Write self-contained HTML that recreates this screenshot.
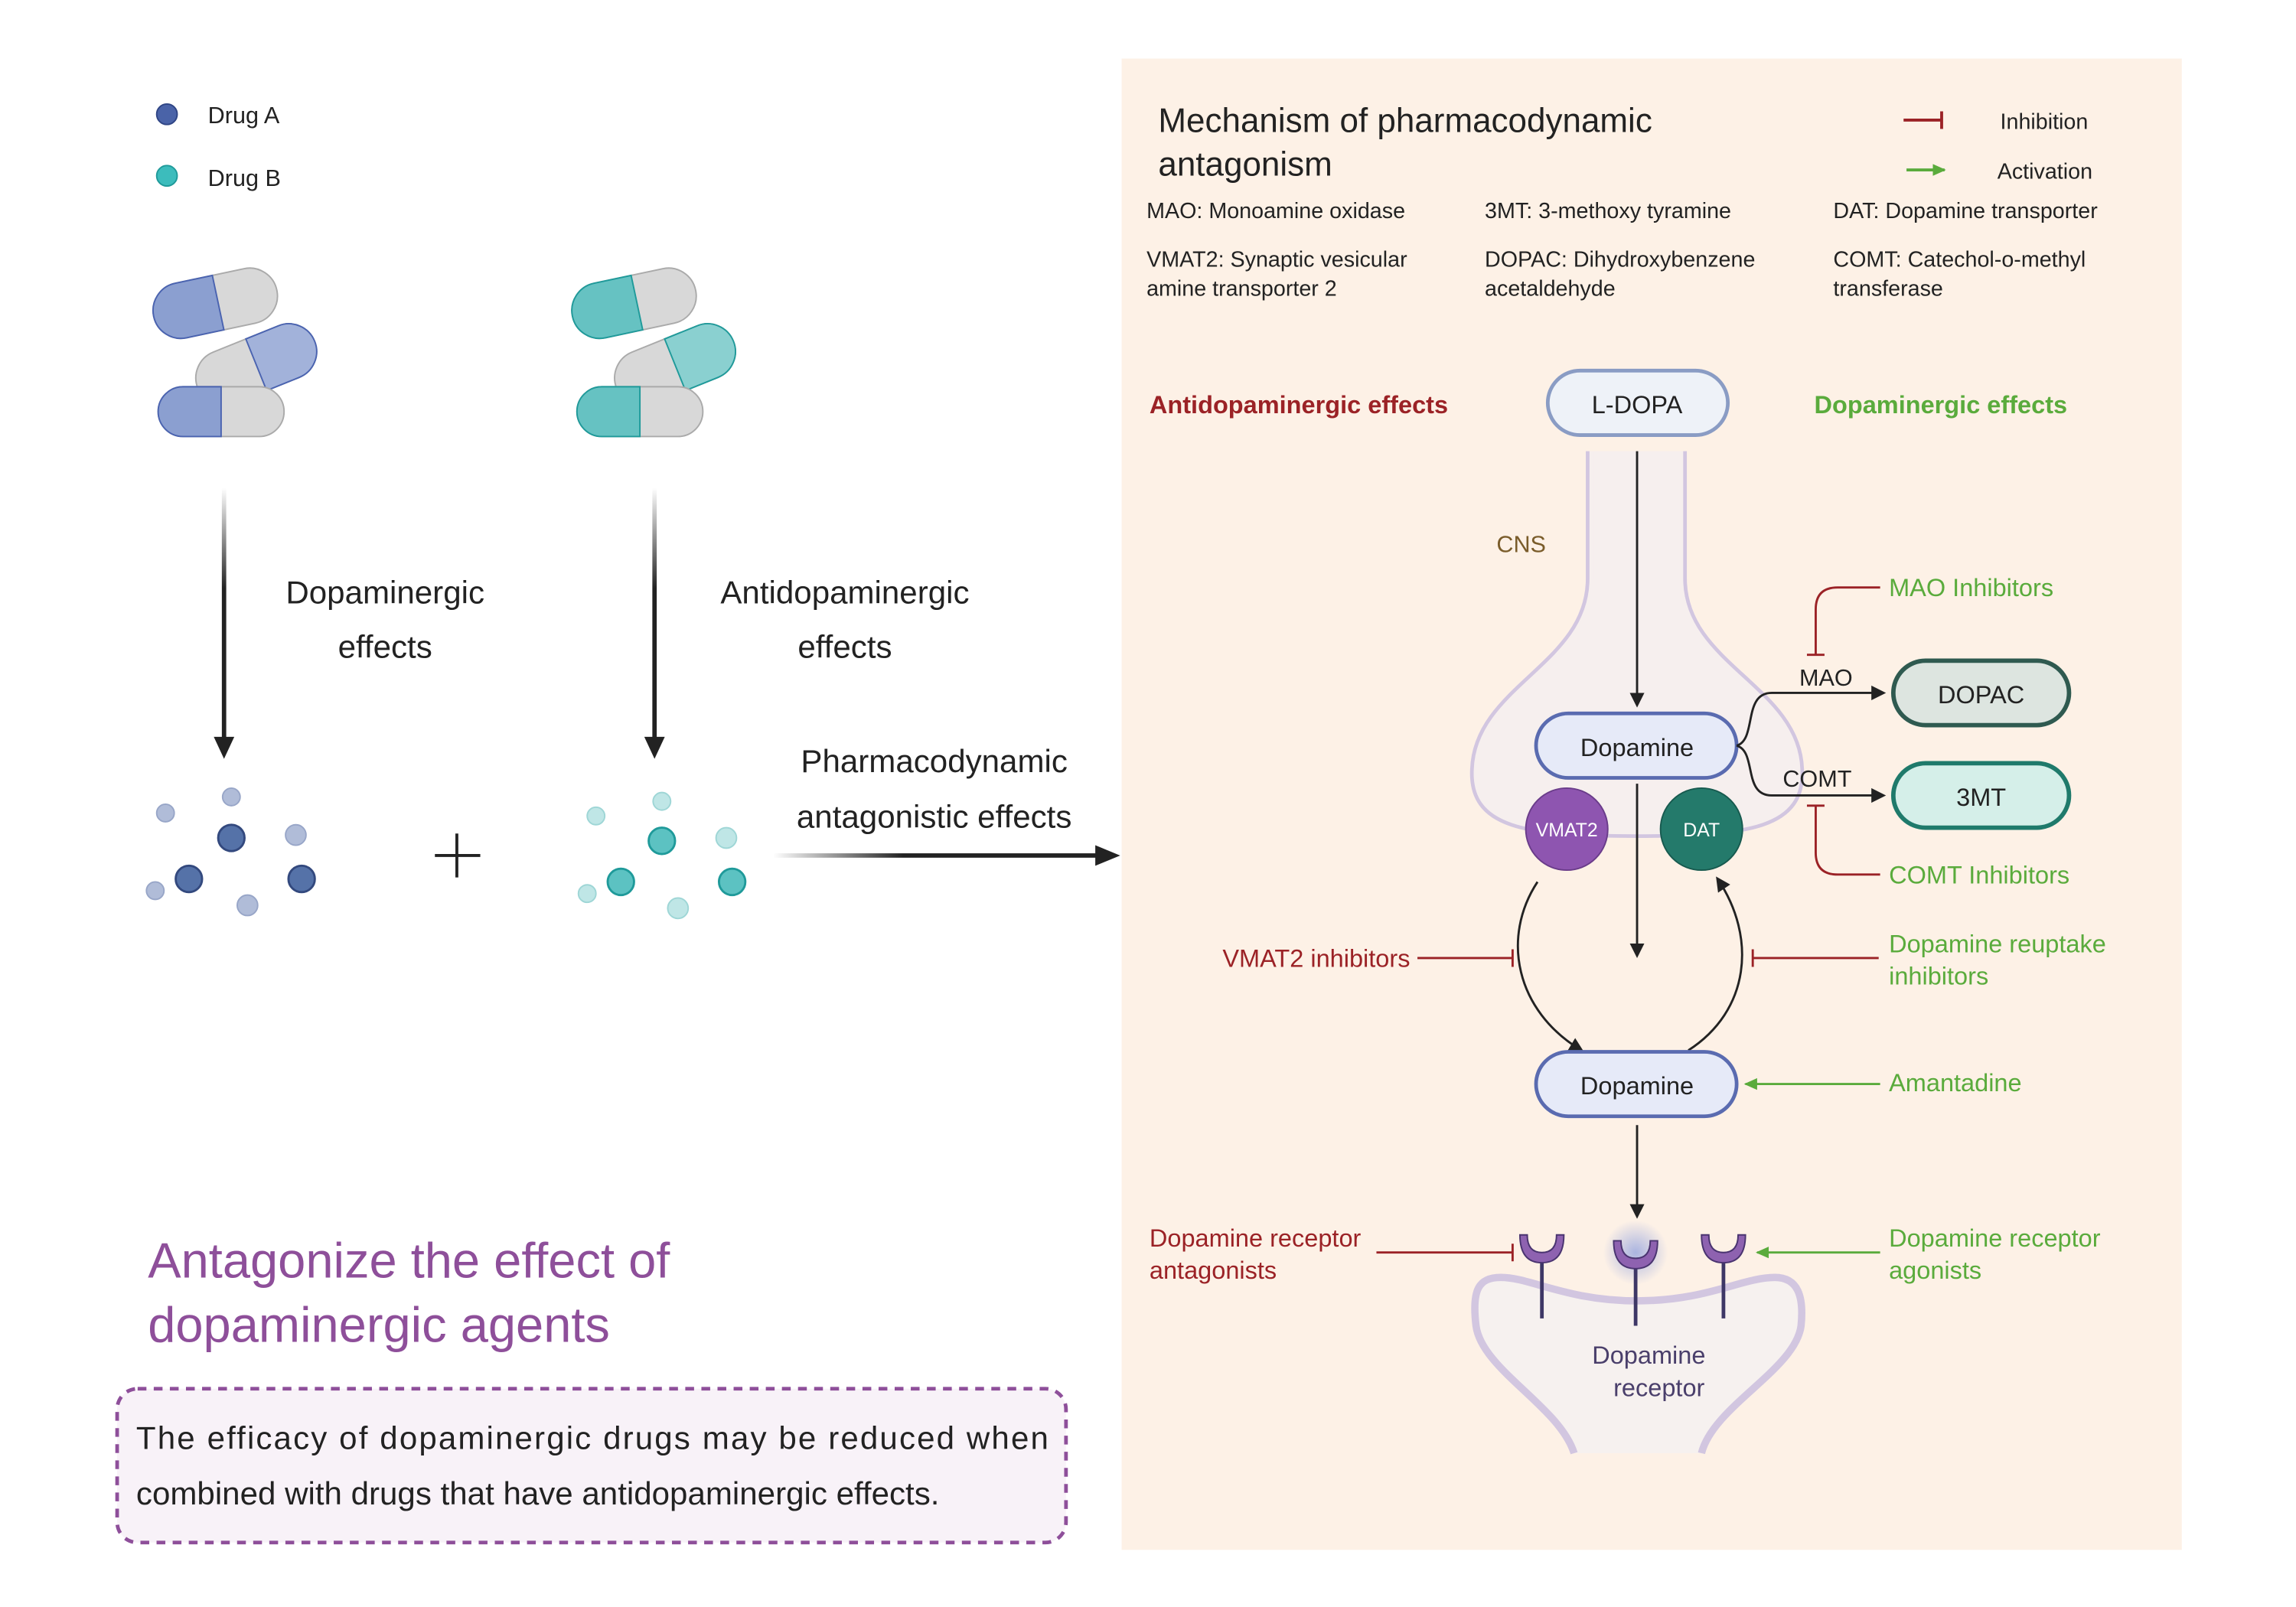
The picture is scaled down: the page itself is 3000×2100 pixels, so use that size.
<!DOCTYPE html>
<html><head><meta charset="utf-8"><style>
html,body{margin:0;padding:0;background:#fff;}
svg{display:block;}
text{font-family:"Liberation Sans",sans-serif;}
</style></head><body>
<svg width="3000" height="2100" viewBox="0 0 1568 1097" preserveAspectRatio="none" xmlns="http://www.w3.org/2000/svg">
<defs>
<linearGradient id="gv" x1="0" y1="0" x2="0" y2="1"><stop offset="0" stop-color="#fff"/><stop offset="0.4" stop-color="#222"/><stop offset="1" stop-color="#222"/></linearGradient>
<linearGradient id="gh" x1="0" y1="0" x2="1" y2="0"><stop offset="0" stop-color="#fff"/><stop offset="0.4" stop-color="#222"/><stop offset="1" stop-color="#222"/></linearGradient>
<radialGradient id="glow"><stop offset="0" stop-color="#aab4e0"/><stop offset="1" stop-color="#aab4e0" stop-opacity="0"/></radialGradient>
<marker id="ak" markerWidth="10" markerHeight="10" refX="8" refY="5" orient="auto" markerUnits="userSpaceOnUse"><path d="M0,0 L10,5 L0,10 z" fill="#222"/></marker>
<marker id="ag" markerWidth="10" markerHeight="10" refX="8" refY="5" orient="auto" markerUnits="userSpaceOnUse"><path d="M0,1 L9,5 L0,9 z" fill="#5aab3c"/></marker>
</defs>

<circle cx="114" cy="78" r="7" fill="#4a63a8" stroke="#2f4585"/>
<text x="142" y="84" font-size="16" fill="#222">Drug A</text>
<circle cx="114" cy="120" r="7" fill="#3cbcbc" stroke="#1f9a9a"/>
<text x="142" y="127" font-size="16" fill="#222">Drug B</text>

<g>
<g transform="translate(147,207) rotate(-12)">
<rect x="-43" y="-19" width="86" height="38" rx="19" fill="#d8d8d8" stroke="#aaa"/>
<path d="M-24,-19 H2 V19 H-24 A19,19 0 0 1 -24,-19z" fill="#8b9fd0" stroke="#4a63b0"/>
</g>
<g transform="translate(175,249) rotate(-22)">
<rect x="-43" y="-19" width="86" height="38" rx="19" fill="#d8d8d8" stroke="#aaa"/>
<path d="M0,-19 H24 A19,19 0 0 1 24,19 H0z" fill="#a2b2da" stroke="#4a63b0"/>
</g>
<g transform="translate(151,281)">
<rect x="-43" y="-17" width="86" height="34" rx="17" fill="#d8d8d8" stroke="#aaa"/>
<path d="M-26,-17 H0 V17 H-26 A17,17 0 0 1 -26,-17z" fill="#8b9fd0" stroke="#4a63b0"/>
</g>
</g>
<g>
<g transform="translate(433,207) rotate(-12)">
<rect x="-43" y="-19" width="86" height="38" rx="19" fill="#d8d8d8" stroke="#aaa"/>
<path d="M-24,-19 H2 V19 H-24 A19,19 0 0 1 -24,-19z" fill="#66c2c2" stroke="#1f9a9a"/>
</g>
<g transform="translate(461,249) rotate(-22)">
<rect x="-43" y="-19" width="86" height="38" rx="19" fill="#d8d8d8" stroke="#aaa"/>
<path d="M0,-19 H24 A19,19 0 0 1 24,19 H0z" fill="#8ad0d0" stroke="#1f9a9a"/>
</g>
<g transform="translate(437,281)">
<rect x="-43" y="-17" width="86" height="34" rx="17" fill="#d8d8d8" stroke="#aaa"/>
<path d="M-26,-17 H0 V17 H-26 A17,17 0 0 1 -26,-17z" fill="#66c2c2" stroke="#1f9a9a"/>
</g>
</g>

<rect x="151.5" y="333" width="3" height="172" fill="url(#gv)"/>
<path d="M146,503 L160,503 L153,518z" fill="#222"/>
<rect x="445.5" y="333" width="3" height="172" fill="url(#gv)"/>
<path d="M440,503 L454,503 L447,518z" fill="#222"/>

<text x="263" y="412" font-size="22" fill="#222" text-anchor="middle">Dopaminergic</text>
<text x="263" y="449" font-size="22" fill="#222" text-anchor="middle">effects</text>
<text x="577" y="412" font-size="22" fill="#222" text-anchor="middle">Antidopaminergic</text>
<text x="577" y="449" font-size="22" fill="#222" text-anchor="middle">effects</text>

<g stroke-width="1">
<circle cx="113" cy="555" r="6" fill="#b0bcd8" stroke="#98a6c8"/>
<circle cx="158" cy="544" r="6" fill="#b0bcd8" stroke="#98a6c8"/>
<circle cx="202" cy="570" r="7" fill="#b0bcd8" stroke="#98a6c8"/>
<circle cx="106" cy="608" r="6" fill="#b0bcd8" stroke="#98a6c8"/>
<circle cx="169" cy="618" r="7" fill="#b0bcd8" stroke="#98a6c8"/>
<circle cx="158" cy="572" r="9" fill="#5572a8" stroke="#33497e" stroke-width="1.5"/>
<circle cx="129" cy="600" r="9" fill="#5572a8" stroke="#33497e" stroke-width="1.5"/>
<circle cx="206" cy="600" r="9" fill="#5572a8" stroke="#33497e" stroke-width="1.5"/>
<circle cx="407" cy="557" r="6" fill="#bfe6e6" stroke="#9ed6d6"/>
<circle cx="452" cy="547" r="6" fill="#bfe6e6" stroke="#9ed6d6"/>
<circle cx="496" cy="572" r="7" fill="#bfe6e6" stroke="#9ed6d6"/>
<circle cx="401" cy="610" r="6" fill="#bfe6e6" stroke="#9ed6d6"/>
<circle cx="463" cy="620" r="7" fill="#bfe6e6" stroke="#9ed6d6"/>
<circle cx="452" cy="574" r="9" fill="#5cc2c2" stroke="#1f9a9a" stroke-width="1.5"/>
<circle cx="424" cy="602" r="9" fill="#5cc2c2" stroke="#1f9a9a" stroke-width="1.5"/>
<circle cx="500" cy="602" r="9" fill="#5cc2c2" stroke="#1f9a9a" stroke-width="1.5"/>
</g>
<path d="M297,584 H328 M312,569 V599" stroke="#222" stroke-width="2"/>

<text x="638" y="527" font-size="22" fill="#222" text-anchor="middle">Pharmacodynamic</text>
<text x="638" y="565" font-size="22" fill="#222" text-anchor="middle">antagonistic effects</text>
<rect x="528" y="582.5" width="222" height="3" fill="url(#gh)"/>
<path d="M748,577 L765,584 L748,591z" fill="#222"/>

<text x="101" y="872" font-size="34" fill="#8e4f9a">Antagonize the effect of</text>
<text x="101" y="916" font-size="34" fill="#8e4f9a">dopaminergic agents</text>
<rect x="80" y="948" width="648" height="105" rx="14" fill="#f8f2f8" stroke="#8e4f9a" stroke-width="2.5" stroke-dasharray="6,5"/>
<text x="93" y="989" font-size="22" fill="#222" textLength="623">The efficacy of dopaminergic drugs may be reduced when</text>
<text x="93" y="1027" font-size="22" fill="#222">combined with drugs that have antidopaminergic effects.</text>

<rect x="766" y="40" width="724" height="1018" fill="#fdf1e6"/>
<text x="791" y="90" font-size="23" fill="#222">Mechanism of pharmacodynamic</text>
<text x="791" y="120" font-size="23" fill="#222">antagonism</text>
<path d="M1300,82 H1326 M1326,76 V88" stroke="#9b2226" stroke-width="2"/>
<text x="1366" y="88" font-size="15" fill="#222">Inhibition</text>
<line x1="1302" y1="116" x2="1328" y2="116" stroke="#5aab3c" stroke-width="2" marker-end="url(#ag)"/>
<text x="1364" y="122" font-size="15" fill="#222">Activation</text>
<g font-size="15" fill="#222">
<text x="783" y="149">MAO: Monoamine oxidase</text>
<text x="1014" y="149">3MT: 3-methoxy tyramine</text>
<text x="1252" y="149">DAT: Dopamine transporter</text>
<text x="783" y="182">VMAT2: Synaptic vesicular</text>
<text x="783" y="202">amine transporter 2</text>
<text x="1014" y="182">DOPAC: Dihydroxybenzene</text>
<text x="1014" y="202">acetaldehyde</text>
<text x="1252" y="182">COMT: Catechol-o-methyl</text>
<text x="1252" y="202">transferase</text>
</g>
<text x="785" y="282" font-size="17" font-weight="bold" fill="#9b2226">Antidopaminergic effects</text>
<text x="1239" y="282" font-size="17" font-weight="bold" fill="#5aab3c">Dopaminergic effects</text>

<path d="M1087,305 L1087,395 C1087,455 1010,470 1008,525 C1006,562 1040,568 1118,568 C1196,568 1230,562 1228,525 C1226,470 1148,455 1148,395 L1148,305" fill="#f6efee" stroke="#d2c6e0" stroke-width="8"/>
<path d="M1087,305 L1087,395 C1087,455 1010,470 1008,525 C1006,562 1040,568 1118,568 C1196,568 1230,562 1228,525 C1226,470 1148,455 1148,395 L1148,305" fill="#f6efee" stroke="#f6efee" stroke-width="3"/>
<rect x="1080" y="300" width="75" height="8" fill="#fdf1e6"/>
<text x="1022" y="377" font-size="16" fill="#7a5c2a">CNS</text>

<rect x="1057" y="253" width="123" height="44" rx="22" fill="#eef2f8" stroke="#8a9cc4" stroke-width="2.5"/>
<text x="1118" y="282" font-size="17" fill="#222" text-anchor="middle">L-DOPA</text>
<line x1="1118" y1="308" x2="1118" y2="481" stroke="#222" stroke-width="1.5" marker-end="url(#ak)"/>

<rect x="1049" y="487" width="137" height="44" rx="22" fill="#e6eaf8" stroke="#5a6bb0" stroke-width="2.5"/>
<text x="1118" y="516" font-size="17" fill="#222" text-anchor="middle">Dopamine</text>

<circle cx="1070" cy="566" r="28" fill="#8e55b0" stroke="#6a3c8a"/>
<text x="1070" y="571" font-size="13" fill="#fff" text-anchor="middle">VMAT2</text>
<circle cx="1162" cy="566" r="28" fill="#247a6b" stroke="#175a4f"/>
<text x="1162" y="571" font-size="13" fill="#fff" text-anchor="middle">DAT</text>

<line x1="1118" y1="535" x2="1118" y2="652" stroke="#222" stroke-width="1.5" marker-end="url(#ak)"/>
<path d="M1050,602 C1025,640 1035,690 1080,717" fill="none" stroke="#222" stroke-width="1.5" marker-end="url(#ak)"/>
<path d="M1153,717 C1195,690 1200,640 1173,600" fill="none" stroke="#222" stroke-width="1.5" marker-end="url(#ak)"/>

<rect x="1049" y="718" width="137" height="44" rx="22" fill="#e6eaf8" stroke="#5a6bb0" stroke-width="2.5"/>
<text x="1118" y="747" font-size="17" fill="#222" text-anchor="middle">Dopamine</text>
<line x1="1118" y1="768" x2="1118" y2="830" stroke="#222" stroke-width="1.5" marker-end="url(#ak)"/>

<path d="M1186,509 C1200,505 1190,473 1210,473 L1286,473" fill="none" stroke="#222" stroke-width="1.5" marker-end="url(#ak)"/>
<path d="M1186,509 C1200,513 1190,543 1210,543 L1286,543" fill="none" stroke="#222" stroke-width="1.5" marker-end="url(#ak)"/>
<text x="1247" y="468" font-size="16" fill="#222" text-anchor="middle">MAO</text>
<text x="1241" y="537" font-size="16" fill="#222" text-anchor="middle">COMT</text>
<rect x="1293" y="451" width="120" height="44" rx="22" fill="#dde5e0" stroke="#2f5a50" stroke-width="3"/>
<text x="1353" y="480" font-size="17" fill="#222" text-anchor="middle">DOPAC</text>
<rect x="1293" y="521" width="120" height="44" rx="22" fill="#d5efe9" stroke="#1f7a6b" stroke-width="3"/>
<text x="1353" y="550" font-size="17" fill="#222" text-anchor="middle">3MT</text>

<g fill="none" stroke="#9b2226" stroke-width="1.5">
<path d="M1284,401 L1255,401 Q1240,401 1240,416 L1240,447 M1234,447 H1246"/>
<path d="M1284,597 L1255,597 Q1240,597 1240,582 L1240,550 M1234,550 H1246"/>
<path d="M968,654 H1033 M1033,648 V660"/>
<path d="M1283,654 H1197 M1197,648 V660"/>
<path d="M940,855 H1033 M1033,849 V861"/>
</g>
<g stroke="#5aab3c" stroke-width="1.5" fill="none">
<line x1="1284" y1="740" x2="1192" y2="740" marker-end="url(#ag)"/>
<line x1="1284" y1="855" x2="1200" y2="855" marker-end="url(#ag)"/>
</g>
<g font-size="17">
<text x="1290" y="407" fill="#5aab3c">MAO Inhibitors</text>
<text x="1290" y="603" fill="#5aab3c">COMT Inhibitors</text>
<text x="963" y="660" fill="#9b2226" text-anchor="end">VMAT2 inhibitors</text>
<text x="1290" y="650" fill="#5aab3c">Dopamine reuptake</text>
<text x="1290" y="672" fill="#5aab3c">inhibitors</text>
<text x="1290" y="745" fill="#5aab3c">Amantadine</text>
<text x="785" y="851" fill="#9b2226">Dopamine receptor</text>
<text x="785" y="873" fill="#9b2226">antagonists</text>
<text x="1290" y="851" fill="#5aab3c">Dopamine receptor</text>
<text x="1290" y="873" fill="#5aab3c">agonists</text>
</g>

<path d="M1075,992 C1065,960 1012,935 1008,905 C1005,880 1010,872 1025,872 C1045,872 1070,888 1118,888 C1166,888 1190,872 1212,872 C1228,872 1232,885 1230,905 C1226,935 1170,960 1162,992" fill="#f6f1ef" stroke="#d2c6e0" stroke-width="5"/>
<circle cx="1117" cy="855" r="22" fill="url(#glow)"/>
<g stroke="#3e3766" stroke-width="2.5">
<line x1="1053" y1="860" x2="1053" y2="900"/>
<line x1="1117" y1="860" x2="1117" y2="905"/>
<line x1="1177" y1="860" x2="1177" y2="900"/>
</g>
<g fill="#8e62b0" stroke="#4a3470" stroke-width="1">
<path d="M1038,843 Q1038,862 1053,862 Q1068,862 1068,843 L1063,843 Q1063,855 1053,855 Q1043,855 1043,843z"/>
<path d="M1102,847 Q1102,866 1117,866 Q1132,866 1132,847 L1127,847 Q1127,859 1117,859 Q1107,859 1107,847z"/>
<path d="M1162,843 Q1162,862 1177,862 Q1192,862 1192,843 L1187,843 Q1187,855 1177,855 Q1167,855 1167,843z"/>
</g>
<text x="1126" y="931" font-size="17" fill="#4a3f6b" text-anchor="middle">Dopamine</text>
<text x="1133" y="953" font-size="17" fill="#4a3f6b" text-anchor="middle">receptor</text>
</svg>
</body></html>
